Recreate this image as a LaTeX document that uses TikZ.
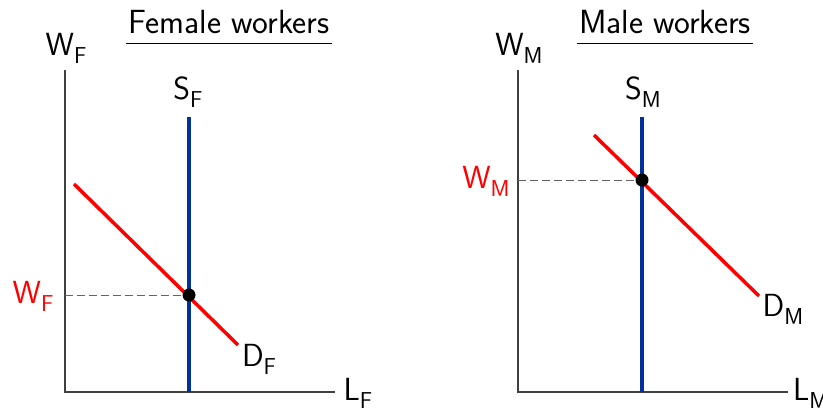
\documentclass[tikz,border=0pt]{standalone}
\usepackage{tikz}

\definecolor{supplyblue}{RGB}{0,51,153}
\definecolor{axisgray}{RGB}{64,64,64}
\definecolor{guidegray}{RGB}{100,100,100}

% label with a lowered subscript
\newcommand{\lab}[2]{#1\raisebox{-0.27em}{\fontsize{23}{23}\selectfont #2}}

\tikzset{
  axis/.style={axisgray, line width=1.4pt},
  supply/.style={supplyblue, line width=3.5pt},
  demand/.style={red, line width=3.5pt},
  guide/.style={guidegray, line width=1pt, dash pattern=on 8pt off 4pt},
  lbl/.style={font=\sffamily\fontsize{32}{36}\selectfont, inner sep=0pt, anchor=base},
  heading/.style={font=\sffamily\fontsize{33.5}{38}\selectfont, inner sep=0pt, anchor=base},
  eqdot/.style={circle, fill=black, minimum size=13pt, inner sep=0pt}
}

\begin{document}
\begin{tikzpicture}[x=1pt, y=-1pt]
  \useasboundingbox (0,0) rectangle (823,410);

  % ---------- Female workers ----------
  \node[heading] (titleF) at (229,33) {Female workers};
  \coordinate (ulF1) at (126,43);
  \coordinate (ulF2) at (332,43);
  \draw[line width=1pt] (ulF1) -- (ulF2);

  % axes
  \coordinate (oF) at (65,392);
  \coordinate (yF) at (65,70);
  \coordinate (xF) at (335,392);
  \draw[axis] (yF) -- (oF) -- (xF);

  % supply and demand
  \coordinate (sFtop) at (189,117);
  \coordinate (sFbot) at (189,392);
  \draw[supply] (sFtop) -- (sFbot);
  \coordinate (dFa) at (74,184);
  \coordinate (dFb) at (238,345);
  \draw[demand] (dFa) -- (dFb);

  % equilibrium
  \node[eqdot] (eF) at (189,295) {};
  \coordinate (wF) at (65,295);
  \draw[guide] (wF) -- (eF);

  % labels
  \node[lbl] (yFlab) at (66,55) {\lab{W}{F}};
  \node[lbl] (sFlab) at (188,99) {\lab{S}{F}};
  \node[lbl] (dFlab) at (259,366) {\lab{D}{F}};
  \node[lbl] (xFlab) at (358,400) {\lab{L}{F}};
  \node[lbl, red] (wFlab) at (33,303) {\lab{W}{F}};

  % ---------- Male workers ----------
  \node[heading] (titleM) at (665,33) {Male workers};
  \coordinate (ulM1) at (577,43);
  \coordinate (ulM2) at (753,43);
  \draw[line width=1pt] (ulM1) -- (ulM2);

  % axes
  \coordinate (oM) at (518,392);
  \coordinate (yM) at (518,70);
  \coordinate (xM) at (788,392);
  \draw[axis] (yM) -- (oM) -- (xM);

  % supply and demand
  \coordinate (sMtop) at (642,117);
  \coordinate (sMbot) at (642,392);
  \draw[supply] (sMtop) -- (sMbot);
  \coordinate (dMa) at (594,135);
  \coordinate (dMb) at (759,296);
  \draw[demand] (dMa) -- (dMb);

  % equilibrium
  \node[eqdot] (eM) at (642,180) {};
  \coordinate (wM) at (518,180);
  \draw[guide] (wM) -- (eM);

  % labels
  \node[lbl] (yMlab) at (519,55) {\lab{W}{M}};
  \node[lbl] (sMlab) at (643,99) {\lab{S}{M}};
  \node[lbl] (dMlab) at (783,316) {\lab{D}{M}};
  \node[lbl, anchor=base west] (xMlab) at (793,400) {\lab{L}{M}};
  \node[lbl, red] (wMlab) at (486,188) {\lab{W}{M}};
\end{tikzpicture}
\end{document}
